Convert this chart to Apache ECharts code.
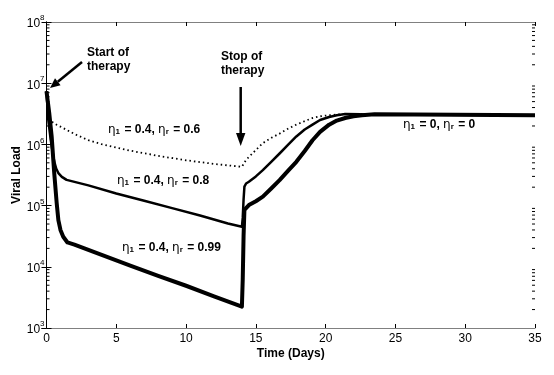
<!DOCTYPE html>
<html>
<head>
<meta charset="utf-8">
<script src="https://cdn.jsdelivr.net/npm/echarts@6/dist/echarts.min.js"></script>
<style>
  html, body { margin: 0; padding: 0; background: #fff; }
  #chart { width: 554px; height: 375px; }
</style>
</head>
<body>
<div id="chart"></div>
<script>
// eta_1 = 0.4, eta_r = 0.6 (dotted)
const days06 = [0, 0.05, 0.1, 0.18, 0.25, 0.35, 0.5, 0.75, 1, 1.5, 2, 3, 4, 5, 6, 8, 10, 12, 14, 14.3, 15, 15.5, 16.1, 16.7, 17.3, 17.9, 18.5, 19.06, 19.6, 20.25, 21.4, 23, 35]
const load06 = [7.4e6, 5.4e6, 4.0e6, 3.1e6, 2.63e6, 2.4e6, 2.24e6, 2.08e6, 1.95e6, 1.7e6, 1.48e6, 1.17e6, 1.0e6, 8.9e5, 7.9e5, 6.5e5, 5.5e5, 4.8e5, 4.3e5, 5.6e5, 8.1e5, 1.05e6, 1.28e6, 1.5e6, 1.8e6, 2.1e6, 2.4e6, 2.7e6, 2.88e6, 3.0e6, 3.15e6, 3.1e6, 3.0e6]

// eta_1 = 0.4, eta_r = 0.8
const days08 = [0, 0.13, 0.3, 0.49, 0.6, 0.7, 0.85, 1.1, 1.44, 3, 5, 7, 9, 11, 13, 14, 14.06, 14.12, 14.18, 14.3, 14.5, 15, 15.5, 16.1, 16.7, 17.3, 17.9, 18.5, 19.06, 19.6, 20.25, 20.8, 21.4, 22.5, 35]
const load08 = [7.4e6, 2.5e6, 1.2e6, 6.3e5, 4.8e5, 4.0e5, 3.4e5, 2.95e5, 2.63e5, 2.14e5, 1.58e5, 1.2e5, 9.1e4, 6.9e4, 5.1e4, 4.5e4, 6.3e4, 1.26e5, 2.04e5, 2.3e5, 2.45e5, 3.0e5, 3.8e5, 5.2e5, 7.1e5, 9.8e5, 1.35e6, 1.75e6, 2.1e6, 2.5e6, 2.8e6, 3.0e6, 3.15e6, 3.1e6, 3.0e6]

// eta_1 = 0.4, eta_r = 0.99 (thick)
const days099 = [0, 0.2, 0.37, 0.55, 0.73, 0.85, 1.0, 1.2, 1.5, 2, 4, 6, 8, 10, 12, 14, 14.06, 14.12, 14.18, 14.5, 15.0, 15.5, 16.1, 16.7, 17.3, 17.9, 18.5, 19.06, 19.6, 20.25, 20.8, 21.4, 22.0, 22.6, 23.5, 35]
const load099 = [7.4e6, 3.2e6, 1.35e6, 3.5e5, 1.1e5, 5.8e4, 4.0e4, 3.1e4, 2.5e4, 2.3e4, 1.55e4, 1.05e4, 7.1e3, 4.9e3, 3.3e3, 2.24e3, 6.3e3, 3.2e4, 8.5e4, 1.02e5, 1.18e5, 1.4e5, 1.9e5, 2.6e5, 3.7e5, 5.2e5, 7.8e5, 1.17e6, 1.6e6, 2.1e6, 2.45e6, 2.7e6, 2.88e6, 3.0e6, 3.1e6, 3.0e6]

const xTicks = [0, 5, 10, 15, 20, 25, 30, 35]
const yDecades = [3, 4, 5, 6, 7, 8]
const minorSteps = [2, 3, 4, 5, 6, 7, 8, 9]

const pairs = (xs, ys) => xs.map((x, i) => [x, ys[i]])

const minorTicks = []
yDecades.slice(0, -1).forEach(d => {
  minorSteps.forEach(m => minorTicks.push([0, m * Math.pow(10, d)]))
})

const font = 'Liberation Sans, Arial, Helvetica, sans-serif'
const etaRich = {
  b: { fontFamily: font, fontWeight: 'bold', fontSize: 12, lineHeight: 16, verticalAlign: 'bottom', color: '#000' },
  e: { fontFamily: 'DejaVu Sans', fontSize: 12, lineHeight: 16, verticalAlign: 'bottom', color: '#000' },
  s: { fontFamily: font, fontWeight: 'bold', fontSize: 8, lineHeight: 11, verticalAlign: 'bottom', padding: [0, 1, 0, 0], color: '#000' }
}
const etaText = (a, b) => '{e|η}{s|1}{b| = ' + a + ', }{e|η}{s|r}{b| = ' + b + '}'

let myChart = echarts.init(document.getElementById('chart'))

myChart.setOption({
  animation: false,
  grid: { left: 46.5, right: 19, top: 22, bottom: 47, outerBoundsMode: 'none' },
  xAxis: [
    {
      type: 'value', min: 0, max: 35, interval: 5,
      name: 'Time (Days)', nameLocation: 'middle', nameGap: 20, nameMoveOverlap: false,
      nameTextStyle: { fontFamily: font, fontWeight: 'bold', fontSize: 12, color: '#000' },
      axisLine: { lineStyle: { color: '#808080', width: 1 } },
      axisTick: { inside: true, length: 4, lineStyle: { color: '#000' } },
      axisLabel: { fontFamily: font, fontSize: 12, color: '#000', margin: 5 },
      splitLine: { show: false }
    },
    {
      type: 'value', min: 0, max: 35, interval: 5, position: 'top',
      axisLine: { lineStyle: { color: '#808080', width: 1 } },
      axisTick: { inside: true, length: 4, lineStyle: { color: '#000' } },
      axisLabel: { show: false },
      splitLine: { show: false }
    }
  ],
  yAxis: [
    {
      type: 'log', logBase: 10, min: 1e3, max: 1e8,
      name: 'Viral Load', nameLocation: 'middle', nameGap: 24, nameRotate: 90, nameMoveOverlap: false,
      nameTextStyle: { fontFamily: font, fontWeight: 'bold', fontSize: 12, color: '#000' },
      axisLine: { lineStyle: { color: '#000', width: 1 } },
      axisTick: { inside: true, length: 5, lineStyle: { color: '#000' } },
      axisLabel: {
        margin: 2,
        formatter: v => '{b|10}{sup|' + Math.round(Math.log10(v)) + '}',
        rich: {
          b: { fontFamily: font, fontSize: 12, lineHeight: 16, verticalAlign: 'bottom', color: '#000' },
          sup: { fontFamily: font, fontSize: 8, lineHeight: 8, verticalAlign: 'top', color: '#000' }
        }
      },
      splitLine: { show: false }
    },
    {
      type: 'log', logBase: 10, min: 1e3, max: 1e8, position: 'right',
      axisLine: { lineStyle: { color: '#000', width: 1 } },
      axisTick: { inside: true, length: 5, lineStyle: { color: '#000' } },
      axisLabel: { show: false },
      splitLine: { show: false }
    }
  ],
  series: [
    {
      name: 'minor', type: 'custom', silent: true, clip: false,
      data: minorTicks,
      renderItem: (params, api) => {
        const pl = api.coord([0, api.value(1)])
        const pr = api.coord([35, api.value(1)])
        return {
          type: 'group',
          children: [
            { type: 'line', shape: { x1: pl[0], y1: pl[1], x2: pl[0] + 3, y2: pl[1] }, style: { stroke: '#000', lineWidth: 1 } },
            { type: 'line', shape: { x1: pr[0] - 3, y1: pr[1], x2: pr[0], y2: pr[1] }, style: { stroke: '#000', lineWidth: 1 } }
          ]
        }
      }
    },
    {
      name: 'eta_r 0.6', type: 'line', showSymbol: false, smooth: false,
      data: pairs(days06, load06),
      lineStyle: { color: '#000', width: 1.8, type: [1.5, 3] }
    },
    {
      name: 'eta_r 0.8', type: 'line', showSymbol: false, smooth: false,
      data: pairs(days08, load08),
      lineStyle: { color: '#000', width: 2.5, join: 'round' }
    },
    {
      name: 'eta_r 0.99', type: 'line', showSymbol: false, smooth: false,
      data: pairs(days099, load099),
      lineStyle: { color: '#000', width: 4, join: 'round' }
    }
  ],
  graphic: [
    { type: 'text', left: 87, top: 46, style: { text: 'Start of\ntherapy', font: 'bold 12px ' + font, lineHeight: 14, fill: '#000' } },
    { type: 'line', shape: { x1: 82, y1: 62, x2: 57.8, y2: 81.7 }, style: { stroke: '#000', lineWidth: 2.5 } },
    { type: 'polygon', shape: { points: [[50, 88], [60.6, 85.2], [55.0, 78.2]] }, style: { fill: '#000' } },
    { type: 'text', left: 221, top: 50, style: { text: 'Stop of\ntherapy', font: 'bold 12px ' + font, lineHeight: 14, fill: '#000' } },
    { type: 'line', shape: { x1: 240.7, y1: 87, x2: 240.7, y2: 136 }, style: { stroke: '#000', lineWidth: 2.5 } },
    { type: 'polygon', shape: { points: [[240.7, 146], [236, 133], [245.4, 133]] }, style: { fill: '#000' } },
    { type: 'text', left: 108, top: 124, style: { text: etaText('0.4', '0.6'), rich: etaRich } },
    { type: 'text', left: 117, top: 175, style: { text: etaText('0.4', '0.8'), rich: etaRich } },
    { type: 'text', left: 122, top: 242, style: { text: etaText('0.4', '0.99'), rich: etaRich } },
    { type: 'text', left: 403, top: 119, style: { text: etaText('0', '0'), rich: etaRich } }
  ]
})
</script>
</body>
</html>
